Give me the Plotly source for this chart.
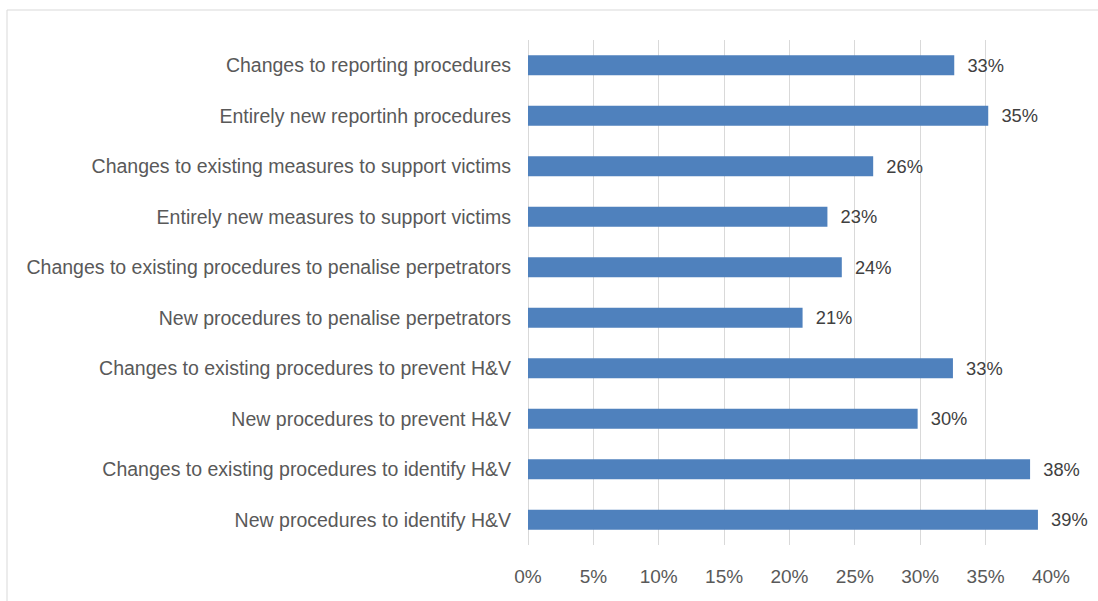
import plotly.graph_objects as go

# Survey measures (top to bottom as displayed)
categories = [
    "Changes to reporting procedures",
    "Entirely new reportinh procedures",
    "Changes to existing measures to support victims",
    "Entirely new measures to support victims",
    "Changes to existing procedures to penalise perpetrators",
    "New procedures to penalise perpetrators",
    "Changes to existing procedures to prevent H&V",
    "New procedures to prevent H&V",
    "Changes to existing procedures to identify H&V",
    "New procedures to identify H&V",
]
shares = [0.326, 0.352, 0.264, 0.229, 0.240, 0.210, 0.325, 0.298, 0.384, 0.390]

tick_vals = [0, 0.05, 0.10, 0.15, 0.20, 0.25, 0.30, 0.35, 0.40]
tick_text = ["0%", "5%", "10%", "15%", "20%", "25%", "30%", "35%", "40%"]

BAR = "#4f81bd"
GRID = "#d9d9d9"
TXT = "#595959"
FONT = "Liberation Sans, Arial, sans-serif"

W, H = 1098, 601
L, R, T, B = 528, 47, 40, 56

fig = go.Figure(
    go.Bar(
        x=shares,
        y=categories,
        orientation="h",
        marker=dict(color=BAR, line=dict(width=0)),
        width=0.4,
        text=shares,
        texttemplate="  %{x:.0%}",
        textposition="outside",
        textfont=dict(family=FONT, size=19, color="#404040"),
        cliponaxis=False,
        hoverinfo="skip",
    )
)

pw = W - L - R
ph = H - T - B


def px_x(p):
    return (p - L) / pw


def px_y(p):
    return (H - B - p) / ph


fig.update_layout(
    width=W,
    height=H,
    margin=dict(l=L, r=R, t=T, b=B),
    paper_bgcolor="white",
    plot_bgcolor="white",
    showlegend=False,
    font=dict(family=FONT, size=19, color=TXT),
    shapes=[
        dict(
            type="rect",
            xref="paper",
            yref="paper",
            x0=px_x(7),
            x1=px_x(1110),
            y0=px_y(620),
            y1=px_y(10),
            line=dict(color="#d9d9d9", width=1),
            fillcolor="rgba(0,0,0,0)",
            layer="below",
        )
    ],
)

fig.update_xaxes(
    range=[0, 0.40],
    tickvals=tick_vals,
    ticktext=tick_text,
    showgrid=True,
    gridcolor=GRID,
    gridwidth=1,
    zeroline=True,
    zerolinecolor=GRID,
    zerolinewidth=1,
    showline=False,
    ticks="",
    ticklabelstandoff=18,
    tickfont=dict(family=FONT, size=19, color=TXT),
    fixedrange=True,
)

fig.update_yaxes(
    categoryorder="array",
    categoryarray=categories[::-1],
    autorange=False,
    range=[-0.5, len(categories) - 0.5],
    showgrid=False,
    zeroline=False,
    showline=False,
    ticks="",
    ticklabelstandoff=16,
    tickfont=dict(family=FONT, size=19.5, color=TXT),
    fixedrange=True,
)

fig.write_html("out.html", config=dict(displayModeBar=False))
